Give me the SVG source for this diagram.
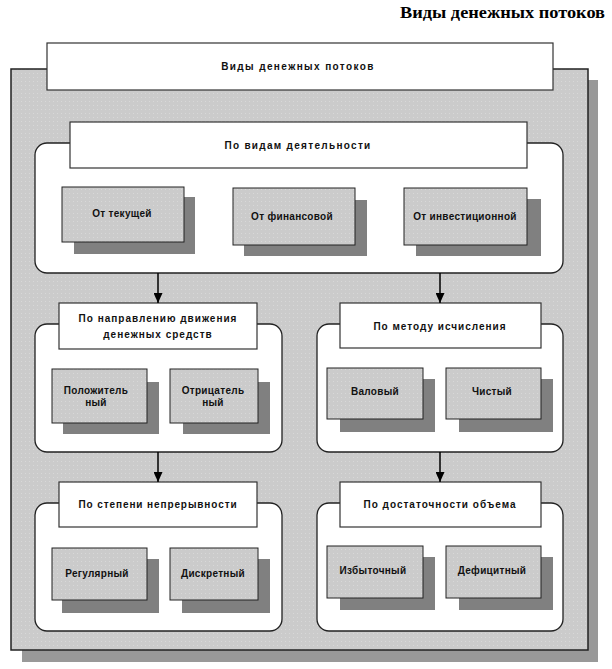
<svg xmlns="http://www.w3.org/2000/svg" width="612" height="669" viewBox="0 0 612 669">
<defs>
<pattern id="dots" width="4" height="4" patternUnits="userSpaceOnUse">
<rect width="4" height="4" fill="#cbcbcb"/>
<rect x="1" y="1" width="1" height="1" fill="#d8d8d8"/>
</pattern>
<marker id="arr" markerUnits="userSpaceOnUse" markerWidth="10" markerHeight="9" refX="10" refY="4.5" orient="auto">
<path d="M0,0 L10,4.5 L0,9 z" fill="#000"/>
</marker>
</defs>
<style>
.panel{fill:url(#dots);stroke:#222;stroke-width:1.5}
.pshadow{fill:#999}
.group{fill:#fff;stroke:#222;stroke-width:1.3}
.head{fill:#fff;stroke:#333;stroke-width:1.2}
.box{fill:url(#dots);stroke:#222;stroke-width:1}
.shadow{fill:#808080}
.ht{font-family:"Liberation Sans",Arial,sans-serif;font-size:10px;font-weight:bold;fill:#111;text-anchor:middle}
.bt{font-family:"Liberation Sans",Arial,sans-serif;font-size:10px;font-weight:bold;fill:#111;text-anchor:middle;letter-spacing:0.3px}
.title{font-family:"Liberation Serif","Times New Roman",serif;font-size:17px;font-weight:bold;fill:#000}
.conn{stroke:#000;stroke-width:1.5;fill:none}
</style>
<text class="title" x="400" y="18" textLength="205" lengthAdjust="spacingAndGlyphs">Виды денежных потоков</text>

<g id="panel">
<rect class="pshadow" x="22" y="80" width="576" height="582"/>
<rect class="panel" x="11" y="69" width="577" height="581"/>
</g>

<g id="header">
<rect class="head" x="47" y="43" width="506" height="47"/>
<text class="ht" x="298" y="70" letter-spacing="1.4">Виды денежных потоков</text>
</g>

<g id="activity">
<rect class="group" x="35" y="143" width="528" height="130" rx="12"/>
<rect class="head" x="70" y="122" width="457" height="46"/>
<text class="ht" x="298" y="149" letter-spacing="1.3">По видам деятельности</text>
</g>
<g id="current">
<rect class="shadow" x="74" y="197" width="121" height="57"/>
<rect class="box" x="62" y="187" width="122" height="55"/>
<text class="bt" x="122" y="217">От текущей</text>
</g>
<g id="financial">
<rect class="shadow" x="244" y="200" width="123" height="56"/>
<rect class="box" x="233" y="188" width="122" height="57"/>
<text class="bt" x="292" y="220">От финансовой</text>
</g>
<g id="investment">
<rect class="shadow" x="416" y="199" width="125" height="57"/>
<rect class="box" x="404" y="188" width="123" height="57"/>
<text class="bt" x="465" y="220">От инвестиционной</text>
</g>

<g id="direction">
<rect class="group" x="35" y="324" width="247" height="128" rx="12"/>
<rect class="head" x="59" y="303" width="198" height="46"/>
<text class="ht" x="158" y="322" letter-spacing="1">По направлению движения</text>
<text class="ht" x="158" y="338" letter-spacing="1">денежных средств</text>
</g>
<g id="positive">
<rect class="shadow" x="63" y="382" width="96" height="52"/>
<rect class="box" x="52" y="369" width="95" height="54"/>
<text class="bt" x="96" y="394">Положитель</text>
<text class="bt" x="96" y="406">ный</text>
</g>
<g id="negative">
<rect class="shadow" x="183" y="382" width="87" height="52"/>
<rect class="box" x="170" y="369" width="88" height="54"/>
<text class="bt" x="213" y="394">Отрицатель</text>
<text class="bt" x="213" y="406">ный</text>
</g>

<g id="method">
<rect class="group" x="317" y="324" width="246" height="128" rx="12"/>
<rect class="head" x="340" y="303" width="201" height="45"/>
<text class="ht" x="440" y="330" letter-spacing="1">По методу исчисления</text>
</g>
<g id="gross">
<rect class="shadow" x="340" y="379" width="95" height="53"/>
<rect class="box" x="327" y="368" width="96" height="51"/>
<text class="bt" x="375" y="395">Валовый</text>
</g>
<g id="net">
<rect class="shadow" x="459" y="379" width="94" height="53"/>
<rect class="box" x="446" y="368" width="95" height="51"/>
<text class="bt" x="492" y="395">Чистый</text>
</g>

<g id="continuity">
<rect class="group" x="35" y="503" width="247" height="128" rx="12"/>
<rect class="head" x="59" y="482" width="198" height="45"/>
<text class="ht" x="158" y="508" letter-spacing="0.9">По степени непрерывности</text>
</g>
<g id="regular">
<rect class="shadow" x="62" y="559" width="97" height="54"/>
<rect class="box" x="52" y="548" width="95" height="52"/>
<text class="bt" x="97" y="577">Регулярный</text>
</g>
<g id="discrete">
<rect class="shadow" x="182" y="559" width="88" height="54"/>
<rect class="box" x="170" y="548" width="88" height="52"/>
<text class="bt" x="213" y="577">Дискретный</text>
</g>

<g id="sufficiency">
<rect class="group" x="317" y="503" width="246" height="128" rx="12"/>
<rect class="head" x="340" y="482" width="201" height="45"/>
<text class="ht" x="440" y="508" letter-spacing="1">По достаточности объема</text>
</g>
<g id="surplus">
<rect class="shadow" x="340" y="557" width="95" height="53"/>
<rect class="box" x="327" y="546" width="96" height="52"/>
<text class="bt" x="373" y="574">Избыточный</text>
</g>
<g id="deficit">
<rect class="shadow" x="459" y="557" width="94" height="53"/>
<rect class="box" x="446" y="546" width="95" height="52"/>
<text class="bt" x="492" y="574">Дефицитный</text>
</g>

<g id="connectors">
<line class="conn" x1="158" y1="273" x2="158" y2="303" marker-end="url(#arr)"/>
<line class="conn" x1="440" y1="273" x2="440" y2="303" marker-end="url(#arr)"/>
<line class="conn" x1="158" y1="452" x2="158" y2="482" marker-end="url(#arr)"/>
<line class="conn" x1="440" y1="452" x2="440" y2="482" marker-end="url(#arr)"/>
</g>
</svg>
